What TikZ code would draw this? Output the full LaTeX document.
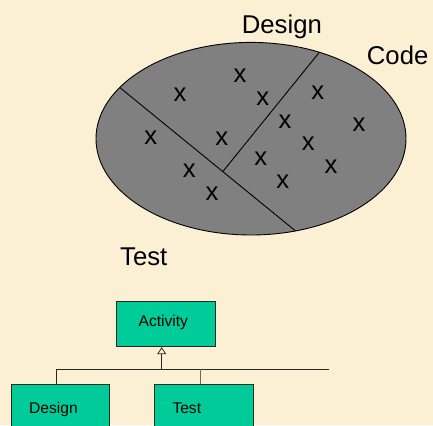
\documentclass[tikz,border=0pt]{standalone}
\usepackage{fontspec}
\setmainfont{Liberation Sans}
\usetikzlibrary{arrows.meta}
\definecolor{paper}{RGB}{252,240,212}
\definecolor{blobgray}{RGB}{128,128,128}
\definecolor{umlgreen}{RGB}{0,204,153}
\tikzset{
  big/.style={inner sep=0pt, font=\fontsize{25.7}{28}\selectfont},
  itemx/.style={inner sep=0pt, font=\fontsize{25.7}{28}\selectfont},
  cls/.style={draw=black!85, line width=0.9pt, fill=umlgreen, inner sep=0pt},
  clstext/.style={inner sep=0pt, font=\fontsize{15.6}{18}\selectfont},
  wire/.style={line width=0.8pt, black!85},
}
\begin{document}
\begin{tikzpicture}[x=1pt,y=-1pt]
  % page and background
  \fill[paper] (0,0) rectangle (433,425);
  \useasboundingbox (0,0) rectangle (433,425);
  \clip (0,0) rectangle (433,425);

  % the blob split into three regions
  \fill[blobgray] (251,138.7) ellipse [x radius=155, y radius=96.3];
  \begin{scope}
    \clip (251,138.7) ellipse [x radius=155, y radius=96.3];
    \draw[line width=0.9pt] (115,83.6) -- (300,234.6);
    \draw[line width=0.9pt] (322,49) -- (222.7,171.7);
  \end{scope}
  \draw[line width=0.9pt] (251,138.7) ellipse [x radius=155, y radius=96.3];

  % region labels
  \node[big, anchor=base west] (lblDesign) at (241.7,33.3) {Design};
  \node[big, anchor=base west] (lblCode) at (366.7,65) {Code};
  \node[big, anchor=base west] (lblTest) at (120,265.7) {Test};

  % items inside the blob
  \foreach \px/\py [count=\i] in {240/76, 180/95, 262.7/99, 317.7/92.3,
      285/121.7, 359/124.3, 150.7/137.3, 221.7/139, 308.3/144,
      260.7/159, 331/166.7, 189.3/171, 282.7/181.7, 212/193.7}
    \node[itemx] (x\i) at (\px,\py) {x};

  % class hierarchy
  \node[cls, minimum width=98.7pt, minimum height=45pt] (act) at (165.7,324.2) {};
  \node[clstext] (actText) at (163.3,322.5) {Activity};
  \node[cls, minimum width=98.3pt, minimum height=60pt, anchor=north west] (des) at (11,384.3) {};
  \node[cls, minimum width=98.7pt, minimum height=60pt, anchor=north west] (tst) at (154.3,384.3) {};
  \node[clstext, anchor=base west] (desText) at (29,413) {Design};
  \node[clstext, anchor=base west] (tstText) at (172.3,413) {Test};

  \coordinate (bus) at (161.7,369.3);
  \coordinate (busL) at (56.7,369.3);
  \coordinate (busR) at (329.3,369.3);
  \coordinate (busT) at (200,369.3);

  \draw[wire, -{Triangle[open, length=7pt, width=9pt, line width=0.8pt]}] (bus) -- (bus |- act.south);
  \draw[wire] (busL) -- (busR);
  \draw[wire] (busL) -- (busL |- des.north);
  \draw[wire, black!60] (busT) -- (busT |- tst.north);
\end{tikzpicture}
\end{document}
